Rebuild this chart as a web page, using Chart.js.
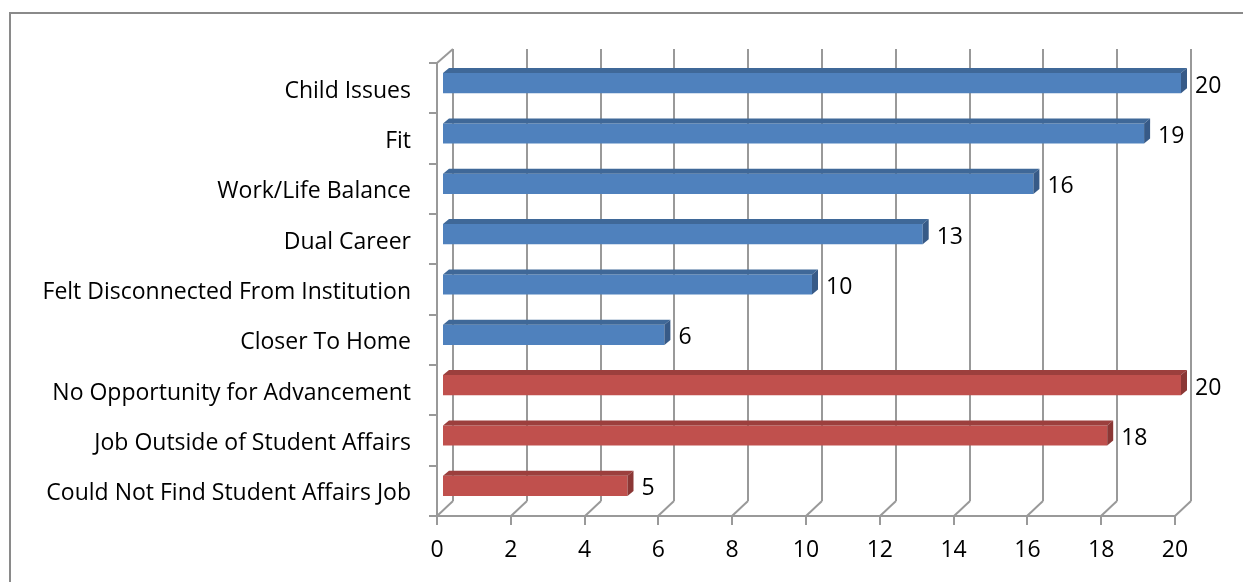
<!DOCTYPE html>
<html>
<head>
<meta charset="utf-8">
<script src="https://cdn.jsdelivr.net/npm/chart.js@4"></script>
<style>
  html, body { margin: 0; padding: 0; background: #fff; overflow: hidden; }
  #wrap { position: relative; width: 1243px; height: 582px; }
  #frame { position: absolute; left: 9px; top: 12px; width: 1300px; height: 620px;
           border-top: 2px solid #8a8a8a; border-left: 2px solid #8a8a8a; }
  canvas { position: absolute; left: 0; top: 0; }
</style>
</head>
<body>
<div id="wrap">
  <div id="frame"></div>
  <canvas id="reasonsChart" width="1243" height="582"></canvas>
</div>
<script>
const categories = [
    "Child Issues",
    "Fit",
    "Work/Life Balance",
    "Dual Career",
    "Felt Disconnected From Institution",
    "Closer To Home",
    "No Opportunity for Advancement",
    "Job Outside of Student Affairs",
    "Could Not Find Student Affairs Job"
];
const values = [20, 19, 16, 13, 10, 6, 20, 18, 5];
const groups = ["blue", "blue", "blue", "blue", "blue", "blue", "red", "red", "red"];
const xTicks = [0, 2, 4, 6, 8, 10, 12, 14, 16, 18, 20];

const palette = {
    blue: { face: "#4f81bd", top: "#3f6898", side: "#375a87" },
    red: { face: "#c0504d", top: "#9c3f3d", side: "#8b3735" }
};

const FONT = "'Open Sans'";
const FONT_SIZE = 23;
const WALL_DX = 16, WALL_DY = 15;   // depth of back wall
const BAR_SHIFT_X = 6, BAR_SHIFT_Y = -5;
const BAR_DX = 6, BAR_DY = 5;       // depth of each bar

function line(ctx, x1, y1, x2, y2) {
    ctx.beginPath();
    ctx.moveTo(x1, y1);
    ctx.lineTo(x2, y2);
    ctx.stroke();
}

function poly(ctx, pts, color) {
    ctx.beginPath();
    ctx.moveTo(pts[0][0], pts[0][1]);
    pts.slice(1).forEach(p => ctx.lineTo(p[0], p[1]));
    ctx.closePath();
    ctx.fillStyle = color;
    ctx.fill();
}

// walls, axes and the 3d look of the bars
const box3d = {
    id: "box3d",
    beforeDatasetsDraw(chart) {
        const { ctx, chartArea: a, scales: { x } } = chart;
        ctx.save();
        ctx.strokeStyle = "#999";
        ctx.lineWidth = 2;
        xTicks.forEach(v => {
            const px = Math.round(x.getPixelForValue(v));
            line(ctx, px + WALL_DX, a.top - WALL_DY + 1, px + WALL_DX, a.bottom - WALL_DY);
            line(ctx, px, a.bottom, px + WALL_DX, a.bottom - WALL_DY);
            line(ctx, px, a.bottom, px, a.bottom + 9);
        });
        line(ctx, a.left - 1, a.bottom, a.right, a.bottom);
        line(ctx, a.left, a.top, a.left, a.bottom);
        line(ctx, a.left, a.top, a.left + WALL_DX, a.top - WALL_DY + 1);
        const step = (a.bottom - a.top) / categories.length;
        for (let i = 0; i <= categories.length; i++) {
            const py = Math.round(a.top + i * step);
            line(ctx, a.left - 8, py, a.left, py);
        }
        ctx.restore();

        ctx.save();
        ctx.translate(BAR_SHIFT_X, BAR_SHIFT_Y);
    },
    afterDatasetsDraw(chart) {
        const ctx = chart.ctx;
        const meta = chart.getDatasetMeta(0);
        meta.data.forEach((bar, i) => {
            const col = palette[groups[i]];
            const top = bar.y - bar.height / 2;
            const bottom = bar.y + bar.height / 2;
            poly(ctx, [[bar.base, top], [bar.base + BAR_DX, top - BAR_DY],
                       [bar.x + BAR_DX, top - BAR_DY], [bar.x, top]], col.top);
            poly(ctx, [[bar.x, top], [bar.x + BAR_DX, top - BAR_DY],
                       [bar.x + BAR_DX, bottom - BAR_DY], [bar.x, bottom]], col.side);

            ctx.fillStyle = "#000";
            ctx.font = FONT_SIZE + "px " + FONT;
            ctx.textAlign = "left";
            ctx.textBaseline = "middle";
            ctx.fillText(String(values[i]), bar.x + BAR_DX + 8, bar.y + 3);
        });
        ctx.restore();
    }
};

const ctx = document.getElementById("reasonsChart").getContext("2d");

new Chart(ctx, {
    type: "bar",
    data: {
        labels: categories,
        datasets: [{
            data: values,
            backgroundColor: groups.map(g => palette[g].face),
            borderWidth: 0,
            barPercentage: 0.4,
            categoryPercentage: 1
        }]
    },
    options: {
        indexAxis: "y",
        responsive: false,
        animation: false,
        layout: { padding: { top: 63, right: 68, left: 0, bottom: 0 } },
        plugins: {
            legend: { display: false },
            tooltip: { enabled: false }
        },
        scales: {
            x: {
                min: 0,
                max: 20,
                ticks: { stepSize: 2, color: "#000", padding: 21, font: { family: FONT, size: FONT_SIZE } },
                grid: { display: false, drawTicks: false },
                border: { display: false },
                afterFit(scale) { scale.height = 66; }
            },
            y: {
                ticks: { color: "#000", padding: 26, labelOffset: 3, font: { family: FONT, size: FONT_SIZE } },
                grid: { display: false, drawTicks: false },
                border: { display: false },
                afterFit(scale) { scale.width = 437; }
            }
        }
    },
    plugins: [box3d]
});
</script>
</body>
</html>
